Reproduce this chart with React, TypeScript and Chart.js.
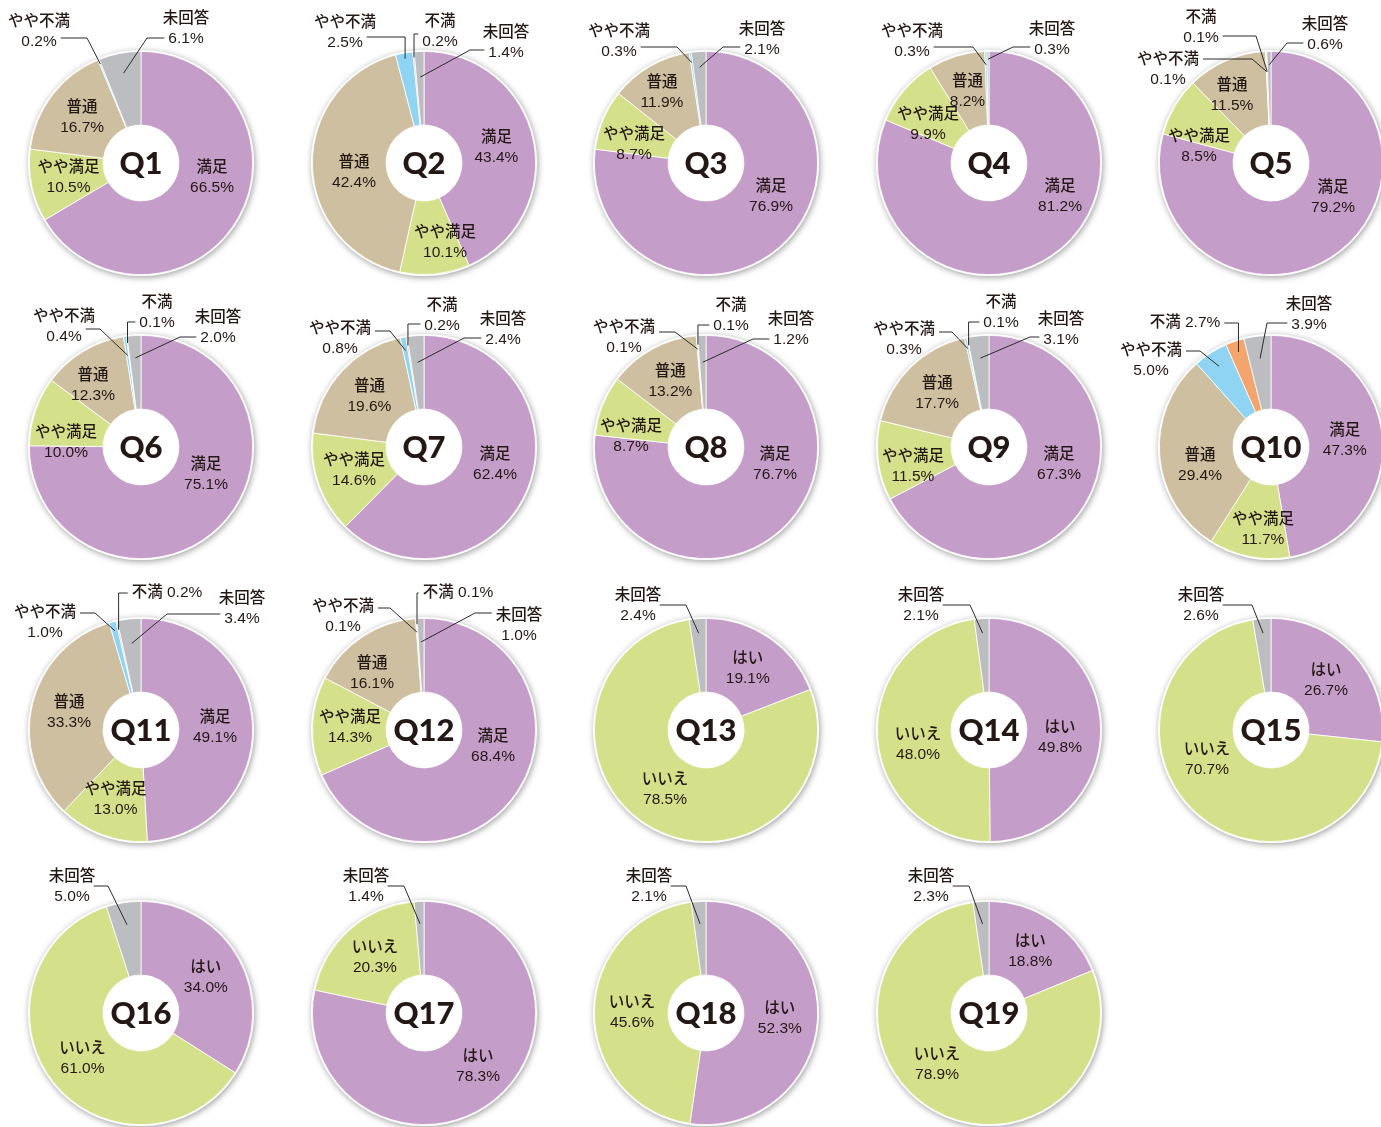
import React, { useEffect, useRef } from 'react';
import { Chart, registerables } from 'chart.js';
Chart.register(...registerables);

// ---------- data ----------
const SAT_CATS = ['満足', 'やや満足', '普通', 'やや不満', '不満', '未回答'];
const YN_CATS = ['はい', 'いいえ', '未回答'];
const SAT_COLORS = ['#c59dc9', '#d5e18a', '#cdbf9f', '#8fd5f3', '#f4a56d', '#bcbdc0'];
const YN_COLORS = ['#c59dc9', '#d5e18a', '#bcbdc0'];

const Q1 = [66.5, 10.5, 16.7, 0.2, 0, 6.1];
const Q2 = [43.4, 10.1, 42.4, 2.5, 0.2, 1.4];
const Q3 = [76.9, 8.7, 11.9, 0.3, 0, 2.1];
const Q4 = [81.2, 9.9, 8.2, 0.3, 0, 0.3];
const Q5 = [79.2, 8.5, 11.5, 0.1, 0.1, 0.6];
const Q6 = [75.1, 10.0, 12.3, 0.4, 0.1, 2.0];
const Q7 = [62.4, 14.6, 19.6, 0.8, 0.2, 2.4];
const Q8 = [76.7, 8.7, 13.2, 0.1, 0.1, 1.2];
const Q9 = [67.3, 11.5, 17.7, 0.3, 0.1, 3.1];
const Q10 = [47.3, 11.7, 29.4, 5.0, 2.7, 3.9];
const Q11 = [49.1, 13.0, 33.3, 1.0, 0.2, 3.4];
const Q12 = [68.4, 14.3, 16.1, 0.1, 0.1, 1.0];
const Q13 = [19.1, 78.5, 2.4];
const Q14 = [49.8, 48.0, 2.1];
const Q15 = [26.7, 70.7, 2.6];
const Q16 = [34.0, 61.0, 5.0];
const Q17 = [78.3, 20.3, 1.4];
const Q18 = [52.3, 45.6, 2.1];
const Q19 = [18.8, 78.9, 2.3];

const QUESTIONS = [
  { title: 'Q1', kind: 'sat', values: Q1 },
  { title: 'Q2', kind: 'sat', values: Q2 },
  { title: 'Q3', kind: 'sat', values: Q3 },
  { title: 'Q4', kind: 'sat', values: Q4 },
  { title: 'Q5', kind: 'sat', values: Q5 },
  { title: 'Q6', kind: 'sat', values: Q6 },
  { title: 'Q7', kind: 'sat', values: Q7 },
  { title: 'Q8', kind: 'sat', values: Q8 },
  { title: 'Q9', kind: 'sat', values: Q9 },
  { title: 'Q10', kind: 'sat', values: Q10 },
  { title: 'Q11', kind: 'sat', values: Q11 },
  { title: 'Q12', kind: 'sat', values: Q12 },
  { title: 'Q13', kind: 'yn', values: Q13 },
  { title: 'Q14', kind: 'yn', values: Q14 },
  { title: 'Q15', kind: 'yn', values: Q15 },
  { title: 'Q16', kind: 'yn', values: Q16 },
  { title: 'Q17', kind: 'yn', values: Q17 },
  { title: 'Q18', kind: 'yn', values: Q18 },
  { title: 'Q19', kind: 'yn', values: Q19 },
];

// ---------- layout ----------
const COL_X = [141, 424, 706, 989, 1271];
const ROW_Y = [163, 447, 730, 1013];
const CW = 340;
const CH = 320;
const R_TARGET = 112;
const INSIDE_R = 74;

// label midpoints (relative to centre) where the label is nudged off the slice centroid
const INSIDE_POS: Record<string, Record<number, [number, number]>> = {
  Q1: { 0: [71, 15] },
  Q2: { 1: [21, 80], 2: [-70, 10] },
  Q3: { 0: [65, 34], 1: [-72, -18], 2: [-44, -70] },
  Q4: { 0: [71, 34], 1: [-61, -38] },
  Q5: { 0: [62, 35], 1: [-72, -16], 2: [-39, -67] },
  Q6: { 0: [65, 28], 1: [-75, -4], 2: [-48, -61] },
  Q7: { 0: [71, 18] },
  Q8: { 0: [69, 18], 1: [-75, -10] },
  Q9: { 0: [70, 18], 1: [-76, 20] },
  Q10: { 1: [-8, 83], 2: [-71, 19] },
  Q12: { 0: [69, 17], 2: [-52, -56] },
  Q13: { 1: [-41, 60] },
  Q14: { 0: [71, 8], 1: [-71, 15] },
  Q15: { 1: [-64, 30] },
  Q17: { 0: [54, 54] },
  Q19: { 1: [-52, 52] },
};

type Leader = { i: number; bx: number; by: number; side: 'r' | 'l'; at: 1 | 2; ly: number; ex: number | 'v'; er: number; single?: boolean };
const LEADERS: Record<string, Leader[]> = {
  Q1: [
    { i: 3, bx: -102, by: -141, side: 'r', at: 2, ly: -125, ex: -54, er: 0.96 },
    { i: 5, bx: 45, by: -144, side: 'l', at: 2, ly: -125, ex: 6, er: 0.82 },
  ],
  Q2: [
    { i: 3, bx: -79, by: -140, side: 'r', at: 2, ly: -126, ex: 'v', er: 0.95 },
    { i: 4, bx: 16, by: -141, side: 'l', at: 2, ly: -129, ex: 'v', er: 0.95 },
    { i: 5, bx: 82, by: -130, side: 'l', at: 2, ly: -113, ex: 46, er: 0.77 },
  ],
  Q3: [
    { i: 3, bx: -87, by: -131, side: 'r', at: 2, ly: -116, ex: -29, er: 0.91 },
    { i: 5, bx: 56, by: -133, side: 'l', at: 2, ly: -116, ex: 17, er: 0.86 },
  ],
  Q4: [
    { i: 3, bx: -77, by: -131, side: 'r', at: 2, ly: -116, ex: -16, er: 0.88 },
    { i: 5, bx: 63, by: -133, side: 'l', at: 2, ly: -116, ex: 24, er: 0.93 },
  ],
  Q5: [
    { i: 4, bx: -70, by: -145, side: 'r', at: 2, ly: -127, ex: -15, er: 0.82 },
    { i: 3, bx: -103, by: -103, side: 'r', at: 1, ly: -104, ex: -19, er: 0.82 },
    { i: 5, bx: 54, by: -138, side: 'l', at: 2, ly: -120, ex: 16, er: 0.88 },
  ],
  Q6: [
    { i: 4, bx: 16, by: -144, side: 'l', at: 2, ly: -125, ex: 'v', er: 0.94 },
    { i: 3, bx: -77, by: -130, side: 'r', at: 2, ly: -118, ex: -41, er: 0.83 },
    { i: 5, bx: 77, by: -129, side: 'l', at: 2, ly: -110, ex: 39, er: 0.8 },
  ],
  Q7: [
    { i: 3, bx: -84, by: -118, side: 'r', at: 1, ly: -116, ex: -34, er: 0.88 },
    { i: 4, bx: 18, by: -141, side: 'l', at: 2, ly: -123, ex: 'v', er: 0.92 },
    { i: 5, bx: 79, by: -127, side: 'l', at: 2, ly: -109, ex: 40, er: 0.76 },
  ],
  Q8: [
    { i: 3, bx: -82, by: -119, side: 'r', at: 1, ly: -115, ex: -31, er: 0.88 },
    { i: 4, bx: 25, by: -141, side: 'l', at: 2, ly: -122, ex: 'v', er: 0.92 },
    { i: 5, bx: 85, by: -127, side: 'l', at: 2, ly: -108, ex: 47, er: 0.76 },
  ],
  Q9: [
    { i: 3, bx: -85, by: -117, side: 'r', at: 1, ly: -115, ex: -37, er: 0.9 },
    { i: 4, bx: 12, by: -144, side: 'l', at: 2, ly: -125, ex: 'v', er: 0.93 },
    { i: 5, bx: 72, by: -127, side: 'l', at: 2, ly: -110, ex: 41, er: 0.8 },
  ],
  Q10: [
    { i: 3, bx: -120, by: -96, side: 'r', at: 1, ly: -96, ex: -71, er: 0.86 },
    { i: 4, bx: -86, by: -124, side: 'r', at: 1, ly: -124, ex: 'v', er: 0.9, single: true },
    { i: 5, bx: 38, by: -142, side: 'l', at: 2, ly: -124, ex: -4, er: 0.8 },
  ],
  Q11: [
    { i: 3, bx: -96, by: -117, side: 'r', at: 1, ly: -117, ex: -46, er: 0.92 },
    { i: 4, bx: 26, by: -137, side: 'l', at: 1, ly: -137, ex: 'v', er: 0.92, single: true },
    { i: 5, bx: 101, by: -131, side: 'l', at: 2, ly: -116, ex: 26, er: 0.78 },
  ],
  Q12: [
    { i: 3, bx: -81, by: -123, side: 'r', at: 1, ly: -122, ex: -34, er: 0.88 },
    { i: 4, bx: 34, by: -137, side: 'l', at: 1, ly: -137, ex: 'v', er: 0.95, single: true },
    { i: 5, bx: 95, by: -114, side: 'l', at: 1, ly: -117, ex: 51, er: 0.79 },
  ],
  Q13: [{ i: 2, bx: -68, by: -134, side: 'r', at: 2, ly: -125, ex: -20, er: 0.87 }],
  Q14: [{ i: 2, bx: -68, by: -134, side: 'r', at: 2, ly: -125, ex: -19, er: 0.87 }],
  Q15: [{ i: 2, bx: -70, by: -134, side: 'r', at: 2, ly: -125, ex: -19, er: 0.87 }],
  Q16: [{ i: 2, bx: -69, by: -136, side: 'r', at: 2, ly: -127, ex: -33, er: 0.8 }],
  Q17: [{ i: 2, bx: -58, by: -136, side: 'r', at: 2, ly: -127, ex: -20, er: 0.8 }],
  Q18: [{ i: 2, bx: -57, by: -136, side: 'r', at: 2, ly: -127, ex: -20, er: 0.8 }],
  Q19: [{ i: 2, bx: -58, by: -136, side: 'r', at: 2, ly: -127, ex: -20, er: 0.8 }],
};

const TEXT_COLOR = '#231815';
const LABEL_FONT = '500 15.5px "Liberation Sans", "Noto Sans CJK JP", sans-serif';
const TITLE_FONT = '900 31px Lato, "Noto Sans", sans-serif';
const fmt = (v: number) => v.toFixed(1) + '%';

function makePlugin(q: any, cats: string[]) {
  const insideCount = q.kind === 'sat' ? 3 : 2;
  return {
    id: 'deco' + q.title,
    beforeDatasetsDraw(chart: any) {
      const a = chart.getDatasetMeta(0).data[0];
      const ctx = chart.ctx;
      ctx.save();
      ctx.beginPath();
      ctx.arc(a.x, a.y, a.outerRadius + 1.5, 0, Math.PI * 2);
      ctx.fillStyle = '#ffffff';
      ctx.shadowColor = 'rgba(0,0,0,0.38)';
      ctx.shadowBlur = 6;
      ctx.shadowOffsetX = 1;
      ctx.shadowOffsetY = 1.5;
      ctx.fill();
      ctx.restore();
    },
    afterDatasetsDraw(chart: any) {
      const meta = chart.getDatasetMeta(0);
      const a0 = meta.data[0];
      const cx = a0.x, cy = a0.y, R = a0.outerRadius;
      const ctx = chart.ctx;
      ctx.save();
      // centre title
      ctx.fillStyle = TEXT_COLOR;
      ctx.font = TITLE_FONT;
      ctx.textAlign = 'center';
      ctx.textBaseline = 'middle';
      ctx.fillText(q.title, cx, cy + 1);

      ctx.font = LABEL_FONT;
      const over = INSIDE_POS[q.title] || {};
      // inside labels
      meta.data.forEach((arc: any, i: number) => {
        if (i >= insideCount) return;
        const v = q.values[i];
        if (!v) return;
        const mid = (arc.startAngle + arc.endAngle) / 2;
        const p = over[i] || [Math.cos(mid) * INSIDE_R, Math.sin(mid) * INSIDE_R];
        ctx.fillText(cats[i], cx + p[0], cy + p[1] - 10);
        ctx.fillText(fmt(v), cx + p[0], cy + p[1] + 10);
      });
      // outside labels with leader lines
      ctx.strokeStyle = '#2b2b2b';
      ctx.lineWidth = 1;
      (LEADERS[q.title] || []).forEach((l) => {
        const arc = meta.data[l.i];
        const v = q.values[l.i];
        const bx = cx + l.bx, by = cy + l.by;
        let w: number;
        if (l.single) {
          const t = cats[l.i] + ' ' + fmt(v);
          ctx.fillText(t, bx, by);
          w = ctx.measureText(t).width;
        } else {
          ctx.fillText(cats[l.i], bx, by);
          ctx.fillText(fmt(v), bx, by + 20);
          w = ctx.measureText(l.at === 1 ? cats[l.i] : fmt(v)).width;
        }
        const sx = l.side === 'r' ? bx + w / 2 + 4 : bx - w / 2 - 4;
        const sy = cy + l.ly;
        const mid = (arc.startAngle + arc.endAngle) / 2;
        const exP = cx + Math.cos(mid) * R * l.er;
        const eyP = cy + Math.sin(mid) * R * l.er;
        const elx = l.ex === 'v' ? exP : cx + l.ex;
        ctx.beginPath();
        ctx.moveTo(sx, sy);
        ctx.lineTo(elx, sy);
        ctx.lineTo(exP, eyP);
        ctx.stroke();
      });
      ctx.restore();
    },
  };
}

function Pie({ q, cx, cy }: { q: any; cx: number; cy: number }) {
  const ref = useRef<HTMLCanvasElement>(null);
  useEffect(() => {
    if (!ref.current) return;
    const cats = q.kind === 'sat' ? SAT_CATS : YN_CATS;
    const colors = q.kind === 'sat' ? SAT_COLORS : YN_COLORS;
    const padX = CW / 2 - R_TARGET;
    const padY = CH / 2 - R_TARGET;
    const chart = new Chart(ref.current, {
      type: 'doughnut',
      data: {
        labels: cats,
        datasets: [
          {
            data: q.values,
            backgroundColor: colors,
            borderColor: '#ffffff',
            borderWidth: 0.8,
            hoverOffset: 0,
          },
        ],
      },
      options: {
        animation: false,
        responsive: false,
        maintainAspectRatio: false,
        cutout: '34%',
        events: [],
        layout: { padding: { left: padX, right: padX, top: padY, bottom: padY } },
        plugins: { legend: { display: false }, tooltip: { enabled: false } },
      },
      plugins: [makePlugin(q, cats) as any],
    });
    return () => chart.destroy();
  }, [q]);
  return (
    <canvas
      ref={ref}
      width={CW}
      height={CH}
      style={{ position: 'absolute', left: cx - CW / 2, top: cy - CH / 2, width: CW, height: CH }}
    />
  );
}

export default function App() {
  return (
    <div
      style={{
        position: 'absolute',
        left: 0,
        top: 0,
        width: 1381,
        height: 1127,
        overflow: 'hidden',
        background: '#ffffff',
      }}
    >
      {QUESTIONS.map((q, k) => (
        <Pie key={q.title} q={q} cx={COL_X[k % 5]} cy={ROW_Y[Math.floor(k / 5)]} />
      ))}
    </div>
  );
}
